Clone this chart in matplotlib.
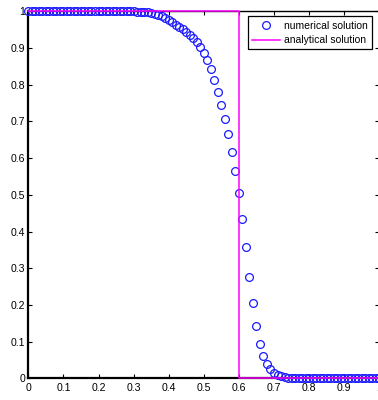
import numpy as np
import matplotlib
matplotlib.use("Agg")
import matplotlib.pyplot as plt

plt.rcParams['font.family'] = ['Liberation Sans', 'DejaVu Sans']

# Numerical solution sampled on a uniform grid of 101 nodes
x_num = np.round(np.arange(0, 101) * 0.01, 2)
u_num = np.array(
    [1.0] * 31 +
    [0.999, 0.999, 0.998, 0.997, 0.995, 0.993, 0.990, 0.986, 0.981, 0.976,   # 0.31-0.40
     0.970, 0.964, 0.958, 0.951, 0.944, 0.936, 0.928, 0.917, 0.903, 0.886,   # 0.41-0.50
     0.866, 0.842, 0.813, 0.780, 0.745, 0.707, 0.665, 0.617, 0.565, 0.504,   # 0.51-0.60
     0.435, 0.357, 0.277, 0.204, 0.142, 0.094, 0.062, 0.039, 0.024, 0.015,   # 0.61-0.70
     0.009, 0.006, 0.004, 0.002, 0.001] +                                     # 0.71-0.75
    [0.0] * 25
)

# Analytical (shock) solution: step located at x = 0.6
x_exact = [0.0, 0.6, 0.6, 1.0]
u_exact = [1.0, 1.0, 0.0, 0.0]

xticks = [0, 0.1, 0.2, 0.3, 0.4, 0.5, 0.6, 0.7, 0.8, 0.9, 1]
xtick_labels = ['0', '0.1', '0.2', '0.3', '0.4', '0.5', '0.6', '0.7', '0.8', '0.9', '1']
yticks = [0, 0.1, 0.2, 0.3, 0.4, 0.5, 0.6, 0.7, 0.8, 0.9, 1]
ytick_labels = ['0', '0.1', '0.2', '0.3', '0.4', '0.5', '0.6', '0.7', '0.8', '0.9', '1']

fig = plt.figure(figsize=(3.78, 4.0), dpi=100)
ax = fig.add_axes([28.3 / 378, 21.7 / 400, (379.3 - 28.3) / 378, 367 / 400])

ax.plot(x_num, u_num, linestyle='none', marker='o', markersize=5.6,
        markerfacecolor='none', markeredgecolor='#1a1aff', markeredgewidth=0.9,
        label='numerical solution', clip_on=False, zorder=3)
ax.plot(x_exact, u_exact, color='#ff00ff', linewidth=1.1,
        label='analytical solution', clip_on=False, zorder=4)

ax.set_xlim(0, 1)
ax.set_ylim(0, 1)
ax.set_xticks(xticks)
ax.set_xticklabels(xtick_labels)
ax.set_yticks(yticks)
ax.set_yticklabels(ytick_labels)

ax.tick_params(direction='in', length=3, width=0.8, top=True, right=True,
               labelsize=7.6, colors='black')
ax.tick_params(axis='x', pad=3.5)
ax.tick_params(axis='y', pad=2)
for side, spine in ax.spines.items():
    spine.set_linewidth(1.6 if side in ('left', 'bottom') else 1.0)
    spine.set_color('black')

leg = ax.legend(loc='upper right', bbox_to_anchor=(0.979, 0.986),
                borderaxespad=0, fontsize=7.5, numpoints=1, handlelength=2.7,
                handletextpad=0.35, labelspacing=0.45, borderpad=0.4,
                fancybox=False, framealpha=1, edgecolor='black')
leg.get_frame().set_linewidth(0.9)

fig.savefig('out.png', dpi=100)
